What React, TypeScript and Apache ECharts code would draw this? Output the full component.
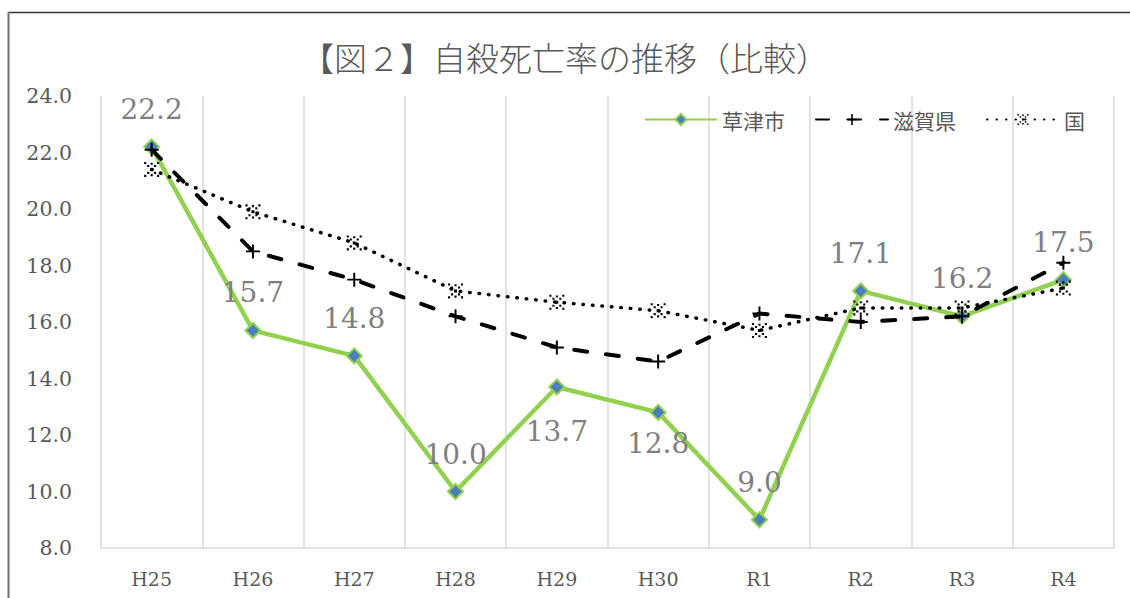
import React, { useEffect, useRef } from "react";
import * as echarts from "echarts";

const categories = ["H25", "H26", "H27", "H28", "H29", "H30", "R1", "R2", "R3", "R4"];
const kusatsu = [22.2, 15.7, 14.8, 10.0, 13.7, 12.8, 9.0, 17.1, 16.2, 17.5];
const shiga = [22.1, 18.5, 17.5, 16.2, 15.1, 14.6, 16.3, 16.0, 16.2, 18.1];
const kuni = [21.4, 19.9, 18.8, 17.1, 16.7, 16.4, 15.7, 16.5, 16.5, 17.2];
const seriesNames = ["草津市", "滋賀県", "国"];
const titleText = "【図２】自殺死亡率の推移（比較）";

const PLUS = "path://M4.3,0h1.4v10h-1.4z M0,4.3h10v1.4h-10z";
const XDOTS =
  "path://M0,0h1.4v1.4h-1.4z M2,2h1.4v1.4h-1.4z M6.6,2h1.4v1.4h-1.4z M8.6,0h1.4v1.4h-1.4z M4,4h2v2h-2z M2,6.6h1.4v1.4h-1.4z M6.6,6.6h1.4v1.4h-1.4z M0,8.6h1.4v1.4h-1.4z M8.6,8.6h1.4v1.4h-1.4z M4.3,0.5h1.4v1.4h-1.4z M4.3,8.1h1.4v1.4h-1.4z";

export default function App() {
  const ref = useRef<HTMLDivElement>(null);
  useEffect(() => {
    if (!ref.current) return;
    const chart = echarts.init(ref.current, null, { renderer: "svg" });
    const serif = "'DejaVu Serif', serif";
    const gothic = "'Noto Sans CJK JP', sans-serif";
    const labelFor = (i: number) => {
      if (i === 4) return { position: "bottom", distance: 22 };
      if (i === 5) return { position: "bottom", distance: 9 };
      return { position: "top", distance: 15 };
    };
    chart.setOption({
      animation: false,
      title: {
        text: titleText,
        left: "center",
        top: 35,
        textStyle: { fontFamily: gothic, fontSize: 33, fontWeight: 300, color: "#595959" },
      },
      legend: {
        right: 40,
        top: 104,
        itemWidth: 72,
        itemHeight: 14,
        itemGap: 30,
        textStyle: { fontFamily: gothic, fontSize: 21, color: "#595959" },
        data: seriesNames,
      },
      grid: { left: 101, right: 16, top: 96, bottom: 50 },
      xAxis: {
        type: "category",
        data: categories,
        boundaryGap: true,
        axisLine: { lineStyle: { color: "#d9d9d9", width: 1.5 } },
        axisTick: { show: false },
        axisLabel: { fontFamily: serif, fontSize: 19, color: "#595959", margin: 21 },
        splitLine: { show: true, lineStyle: { color: "#d9d9d9", width: 1.5 } },
      },
      yAxis: {
        type: "value",
        min: 8,
        max: 24,
        interval: 2,
        axisLine: { show: false },
        axisTick: { show: false },
        splitLine: { show: false },
        axisLabel: {
          fontFamily: serif,
          fontSize: 20.5,
          color: "#595959",
          margin: 29,
          formatter: (v: number) => v.toFixed(1),
        },
      },
      series: [
        {
          name: seriesNames[0],
          type: "line",
          data: kusatsu.map((v, i) => ({ value: v, label: labelFor(i) })),
          symbol: "diamond",
          symbolSize: 15,
          lineStyle: { color: "#92d050", width: 4.5 },
          itemStyle: { color: "#4a7ebb", borderColor: "#92d050", borderWidth: 2 },
          label: {
            show: true,
            fontFamily: serif,
            fontSize: 28,
            color: "#7f7f7f",
            formatter: (p: any) => Number(p.value).toFixed(1),
          },
          z: 2,
        },
        {
          name: seriesNames[1],
          type: "line",
          data: shiga,
          symbol: PLUS,
          symbolSize: 14,
          lineStyle: { color: "#000", width: 4, type: [13, 19], cap: "round" },
          itemStyle: { color: "#000" },
          z: 3,
        },
        {
          name: seriesNames[2],
          type: "line",
          data: kuni,
          symbol: XDOTS,
          symbolSize: 15,
          lineStyle: { color: "#000", width: 3.5, type: [0.5, 9], cap: "round" },
          itemStyle: { color: "#000" },
          z: 4,
        },
      ],
      graphic: [
        { type: "line", shape: { x1: 8, y1: 12.5, x2: 1130, y2: 12.5 }, style: { stroke: "#333", lineWidth: 1.5 } },
        { type: "line", shape: { x1: 8.5, y1: 12, x2: 8.5, y2: 598 }, style: { stroke: "#707070", lineWidth: 2 } },
      ],
    });
    return () => chart.dispose();
  }, []);
  return (
    <div
      ref={ref}
      style={{ position: "fixed", left: 0, top: 0, width: 1130, height: 598, background: "#fff" }}
    />
  );
}
